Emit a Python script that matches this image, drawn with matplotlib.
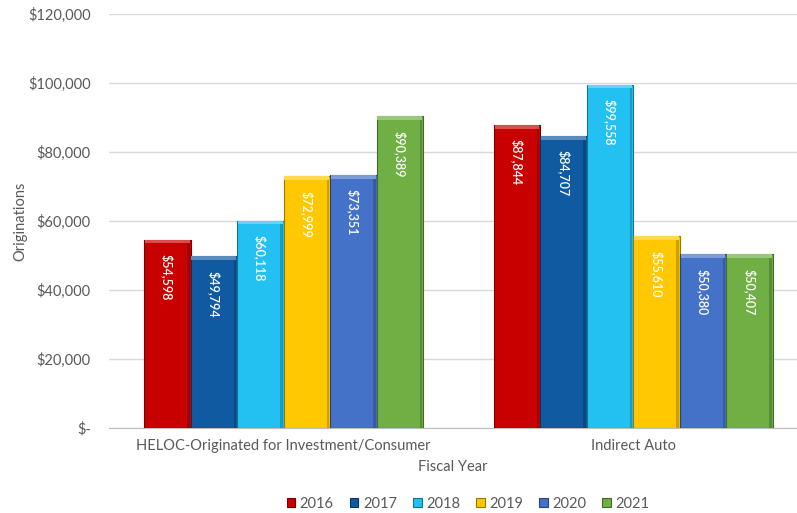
import numpy as np
import matplotlib.pyplot as plt
from matplotlib.ticker import FuncFormatter
from matplotlib.colors import to_rgb

# Originations by loan category and fiscal year
categories = ['HELOC-Originated for Investment/Consumer', 'Indirect Auto']
years = ['2016', '2017', '2018', '2019', '2020', '2021']
heloc = [54598, 49794, 60118, 72999, 73351, 90389]
indirect_auto = [87844, 84707, 99558, 55610, 50380, 50407]
values = np.array([heloc, indirect_auto])  # rows = category, cols = year

colors = ['#C80000', '#0F5AA0', '#22C1F2', '#FFC800', '#4472C8', '#6FAF44']


def shade(c, f):
    r = np.array(to_rgb(c))
    return tuple(np.clip(r * f if f < 1 else r + (1 - r) * (f - 1), 0, 1))


plt.rcParams['font.family'] = ['Lato', 'DejaVu Sans']
TXT = '#595959'

fig = plt.figure(figsize=(7.97, 5.13), dpi=100)
ax = fig.add_axes([0.1364, 0.1657, 0.8636, 0.807])

x = np.arange(len(categories))
bw = 0.133
n = len(years)
for i, yr in enumerate(years):
    xs = x + (i - (n - 1) / 2) * bw
    ax.bar(xs, values[:, i], width=bw, color=colors[i], edgecolor=shade(colors[i], 0.6),
           linewidth=0.8, label=yr, zorder=3)
    # bevel: light cap on top, darker strip on the right side
    ax.bar(xs, [1100] * len(xs), bottom=values[:, i] - 1100, width=bw * 0.96,
           color=shade(colors[i], 1.3), linewidth=0, zorder=3.5)
    ax.bar(xs + bw * 0.455, values[:, i] - 1100, width=bw * 0.06,
           color=shade(colors[i], 0.8), linewidth=0, zorder=3.5)
    for xi, v in zip(xs, values[:, i]):
        ax.text(xi, v - 4200, f'${v:,.0f}', rotation=270, ha='center', va='top',
                color='white', fontsize=9, fontweight='semibold', zorder=4)

ax.set_ylim(0, 120000)
ax.set_yticks(np.arange(0, 120001, 20000))
ax.yaxis.set_major_formatter(FuncFormatter(lambda v, p: '$-' if v == 0 else f'${v:,.0f}'))
ax.set_xlim(-0.5, 1.4685)
ax.set_xticks(x)
ax.set_xticklabels(categories)

ax.grid(axis='y', color='#D9D9D9', lw=1, zorder=0)
for s in ['top', 'right', 'left']:
    ax.spines[s].set_visible(False)
ax.spines['bottom'].set_color('#BFBFBF')
ax.tick_params(axis='both', length=0, labelsize=10.5, colors=TXT)
ax.tick_params(axis='y', pad=13)
ax.tick_params(axis='x', pad=8)

ax.set_ylabel('Originations', fontsize=10.5, color=TXT)
ax.yaxis.set_label_coords(-0.118, 0.5)
ax.set_xlabel('Fiscal Year', fontsize=10.5, color=TXT, labelpad=5)

ax.legend(loc='upper center', bbox_to_anchor=(0.522, -0.135), ncol=6, frameon=False,
          fontsize=10.5, labelcolor=TXT, handlelength=0.6, handleheight=0.6,
          handletextpad=0.3, columnspacing=1.1)

fig.savefig('out.png', dpi=100)
